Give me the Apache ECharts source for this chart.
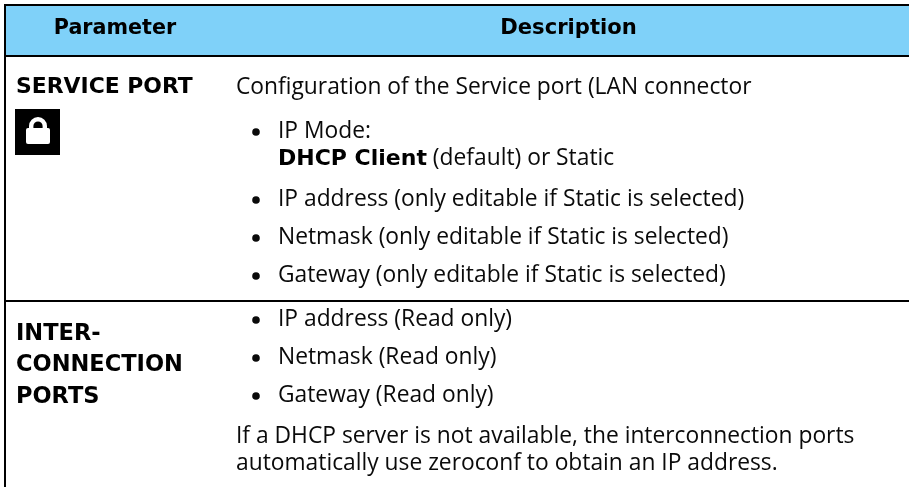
<!DOCTYPE html>
<html>

<head>
    <meta charset="utf-8">
    <title>ECharts</title>
    <script src="https://cdn.jsdelivr.net/npm/echarts@6/dist/echarts.min.js"></script>
    <style>
        html, body { margin: 0; padding: 0; background: #fff; }
        #main { width: 909px; height: 487px; }
    </style>
</head>

<body>
    <div id="main"></div>
    <script>
        // table text
        var headers = ['Parameter', 'Description'];
        var paramOne = ['SERVICE PORT'];
        var paramTwo = ['INTER-', 'CONNECTION', 'PORTS'];
        var introOne = 'Configuration of the Service port (LAN connector';
        var bulletsOne = ['IP Mode:', 'IP address (only editable if Static is selected)', 'Netmask (only editable if Static is selected)', 'Gateway (only editable if Static is selected)'];
        var modeBold = 'DHCP Client';
        var modeRest = ' (default) or Static';
        var bulletsTwo = ['IP address (Read only)', 'Netmask (Read only)', 'Gateway (Read only)'];
        var noteTwo = ['If a DHCP server is not available, the interconnection ports', 'automatically use zeroconf to obtain an IP address.'];

        var ink = '#0a0a0a';
        var bodyFont = '"Open Sans"';
        var boldFont = '"DejaVu Sans"';

        function bodyText(str, x, y) {
            return { type: 'text', x: x, y: y, style: { text: str, fill: ink, font: '22.8px ' + bodyFont, textVerticalAlign: 'middle' } };
        }
        function boldText(str, x, y, align, size) {
            return { type: 'text', x: x, y: y, style: { text: str, fill: '#000', font: 'bold ' + (size || 20.7) + 'px ' + boldFont, textAlign: align || 'left', textVerticalAlign: 'middle' } };
        }
        function bullet(y) {
            return { type: 'circle', shape: { cx: 256, cy: y, r: 3.8 }, style: { fill: ink } };
        }
        function rule(x1, y1, x2, y2) {
            return { type: 'line', shape: { x1: x1, y1: y1, x2: x2, y2: y2 }, style: { stroke: '#000', lineWidth: 2 } };
        }

        var els = [];
        els.push({ type: 'rect', shape: { x: 5, y: 5, width: 904, height: 50 }, style: { fill: '#7fd1f9' } });
        els.push(rule(5, 5, 909, 5), rule(5, 56, 909, 56), rule(5, 301, 909, 301), rule(5, 4, 5, 487));

        els.push(boldText(headers[0], 115, 29, 'center'), boldText(headers[1], 568.5, 29, 'center', 21.1));
        els.push(boldText(paramOne[0], 16, 87, 'left', 21.9));

        // lock icon
        els.push({ type: 'rect', shape: { x: 15, y: 109, width: 45, height: 46 }, style: { fill: '#000' } });
        els.push({ type: 'rect', shape: { x: 26, y: 128, width: 24, height: 16, r: 2 }, style: { fill: '#fff' } });
        els.push({ type: 'arc', shape: { cx: 38, cy: 126, r: 6.8, startAngle: Math.PI, endAngle: Math.PI * 2 }, style: { fill: 'none', stroke: '#fff', lineWidth: 4.4 } });
        els.push({ type: 'polyline', shape: { points: [[31.2, 126], [31.2, 130]] }, style: { stroke: '#fff', lineWidth: 4.4 } });
        els.push({ type: 'polyline', shape: { points: [[44.8, 126], [44.8, 130]] }, style: { stroke: '#fff', lineWidth: 4.4 } });

        els.push(boldText(paramTwo[0], 16, 334, 'left', 22.5), boldText(paramTwo[1], 16, 365, 'left', 22.5), boldText(paramTwo[2], 16, 397, 'left', 22.5));

        els.push(bodyText(introOne, 236, 88));

        var oneY = [132, 200, 238, 276];
        bulletsOne.forEach(function (s, i) {
            els.push(bullet(oneY[i]), bodyText(s, 278, oneY[i]));
        });
        els.push({
            type: 'text', x: 278, y: 159,
            style: {
                text: '{b|' + modeBold + '}{r|' + modeRest + '}',
                textVerticalAlign: 'middle',
                rich: {
                    b: { font: 'bold 22px ' + boldFont, fill: '#000' },
                    r: { font: '22.8px ' + bodyFont, fill: ink }
                }
            }
        });

        var twoY = [320, 358, 396];
        bulletsTwo.forEach(function (s, i) {
            els.push(bullet(twoY[i]), bodyText(s, 278, twoY[i]));
        });
        els.push(bodyText(noteTwo[0], 236, 437), bodyText(noteTwo[1], 236, 464));

        var myChart = echarts.init(document.getElementById('main'));
        var option = { animation: false, backgroundColor: '#fff', graphic: { elements: els } };
        myChart.setOption(option);
    </script>
</body>

</html>
